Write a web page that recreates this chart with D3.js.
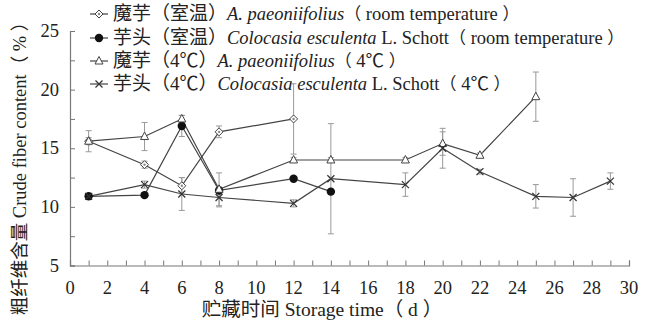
<!DOCTYPE html>
<html>
<head>
<meta charset="utf-8">
<script src="https://cdn.jsdelivr.net/npm/d3@7"></script>
<style>
  html, body { margin: 0; padding: 0; background: #fff; }
  svg { display: block; }
  text { font-family: "Liberation Serif", "Noto Sans CJK SC", serif; fill: #222; }
</style>
</head>
<body>
<svg id="chart" width="648" height="322"></svg>
<script>
// Storage days and crude fiber content (%) with standard deviations
const daysAmRoom = [1, 4, 6, 8, 12];
const valAmRoom  = [15.6, 13.6, 11.8, 16.4, 17.5];
const errAmRoom  = [0.9, 0.3, 0.7, 0.5, 3.0];

const daysCeRoom = [1, 4, 6, 8, 12, 14];
const valCeRoom  = [10.9, 11.0, 16.9, 11.4, 12.4, 11.3];
const errCeRoom  = [0.2, 0.2, 0.9, 0.3, 0.2, 0.2];

const daysAmCold = [1, 4, 6, 8, 12, 14, 18, 20, 22, 25];
const valAmCold  = [15.6, 16.0, 17.5, 11.5, 14.0, 14.0, 14.0, 15.4, 14.4, 19.4];
const errAmCold  = [0.3, 1.2, 0.3, 1.4, 0.2, 0.2, 0.2, 1.0, 0.2, 2.1];

const daysCeCold = [1, 4, 6, 8, 12, 14, 18, 20, 22, 25, 27, 29];
const valCeCold  = [10.9, 11.9, 11.1, 10.8, 10.3, 12.4, 11.9, 15.0, 13.0, 10.9, 10.8, 12.2];
const errCeCold  = [0.2, 0.3, 1.4, 0.8, 0.3, 4.7, 1.0, 1.7, 0.2, 1.0, 1.6, 0.7];

const xTicks = [0, 2, 4, 6, 8, 10, 12, 14, 16, 18, 20, 22, 24, 26, 28, 30];
const yTicks = [5, 10, 15, 20, 25];

const svg = d3.select("#chart");
const x = d3.scaleLinear().domain([0, 30]).range([70, 629]);
const y = d3.scaleLinear().domain([5, 25]).range([265.5, 31]);

const series = [
  { days: daysAmRoom, vals: valAmRoom, errs: errAmRoom, marker: "diamond",
    cn: "魔芋（室温）", sp: "A. paeoniifolius", auth: "", cond: " room temperature " },
  { days: daysCeRoom, vals: valCeRoom, errs: errCeRoom, marker: "circle",
    cn: "芋头（室温）", sp: "Colocasia esculenta", auth: " L. Schott", cond: " room temperature " },
  { days: daysAmCold, vals: valAmCold, errs: errAmCold, marker: "triangle",
    cn: "魔芋（4℃）", sp: "A. paeoniifolius", auth: "", cond: " 4℃ " },
  { days: daysCeCold, vals: valCeCold, errs: errCeCold, marker: "cross",
    cn: "芋头（4℃）", sp: "Colocasia esculenta", auth: " L. Schott", cond: " 4℃ " }
];

// Axes: ticks point inward
const axisColor = "#777";
const xAxis = d3.axisBottom(x).tickValues(d3.range(0, 31, 1)).tickSize(-5).tickFormat("");
const gx = svg.append("g").attr("transform", `translate(0,${y(5)})`).call(xAxis);
const yAxis = d3.axisLeft(y).tickValues(d3.range(5, 25.1, 2.5)).tickSize(-5).tickFormat("");
const gy = svg.append("g").attr("transform", `translate(${x(0)},0)`).call(yAxis);
[gx, gy].forEach(g => {
  g.select(".domain").attr("stroke", axisColor).attr("stroke-width", 1.2);
  g.selectAll(".tick line").attr("stroke", axisColor).attr("stroke-width", 1);
});

// Tick labels
svg.append("g").selectAll("text").data(xTicks).join("text")
  .attr("x", d => x(d)).attr("y", 294)
  .attr("text-anchor", "middle").attr("font-size", 18.5)
  .text(d => d);
svg.append("g").selectAll("text").data(yTicks).join("text")
  .attr("x", 59).attr("y", d => y(d) + 6)
  .attr("text-anchor", "end").attr("font-size", 18.5)
  .text(d => d);

// Axis titles
svg.append("text")
  .attr("x", 322).attr("y", 316)
  .attr("text-anchor", "middle").attr("font-size", 19.5)
  .style("white-space", "pre")
  .text("贮藏时间 Storage time（ d ）");
svg.append("text")
  .attr("transform", "translate(26,164) rotate(-90)")
  .attr("text-anchor", "middle").attr("font-size", 18.5)
  .style("white-space", "pre")
  .text("粗纤维含量 Crude fiber content（ % ）");

// Marker shapes
function drawMarker(g, type, cx, cy) {
  const s = "#444";
  if (type === "diamond") {
    g.append("path").attr("d", `M${cx},${cy - 4}L${cx + 4},${cy}L${cx},${cy + 4}L${cx - 4},${cy}Z`)
      .attr("fill", "#fff").attr("stroke", s).attr("stroke-width", 1);
    g.append("circle").attr("cx", cx).attr("cy", cy).attr("r", 1.2).attr("fill", "#888");
  } else if (type === "circle") {
    g.append("circle").attr("cx", cx).attr("cy", cy).attr("r", 4.2).attr("fill", "#111");
  } else if (type === "triangle") {
    g.append("path").attr("d", `M${cx},${cy - 4.5}L${cx + 4},${cy + 3}L${cx - 4},${cy + 3}Z`)
      .attr("fill", "#fff").attr("stroke", s).attr("stroke-width", 1);
  } else {
    g.append("path").attr("d", `M${cx - 3.5},${cy - 3.5}L${cx + 3.5},${cy + 3.5}M${cx - 3.5},${cy + 3.5}L${cx + 3.5},${cy - 3.5}`)
      .attr("stroke", "#333").attr("stroke-width", 1.2);
  }
}

// Lines
const line = d3.line().x(d => x(d[0])).y(d => y(d[1]));
series.forEach(s => {
  svg.append("path")
    .datum(s.days.map((d, i) => [d, s.vals[i]]))
    .attr("d", line).attr("fill", "none")
    .attr("stroke", "#444").attr("stroke-width", 1.2);
});

// Error bars
const eb = svg.append("g").attr("stroke", "#999").attr("stroke-width", 1);
series.forEach(s => {
  s.days.forEach((d, i) => {
    const cx = x(d), y1 = y(s.vals[i] + s.errs[i]), y2 = y(s.vals[i] - s.errs[i]);
    eb.append("line").attr("x1", cx).attr("x2", cx).attr("y1", y1).attr("y2", y2);
    eb.append("line").attr("x1", cx - 3).attr("x2", cx + 3).attr("y1", y1).attr("y2", y1);
    eb.append("line").attr("x1", cx - 3).attr("x2", cx + 3).attr("y1", y2).attr("y2", y2);
  });
});

// Markers
const mk = svg.append("g");
series.forEach(s => {
  s.days.forEach((d, i) => drawMarker(mk, s.marker, x(d), y(s.vals[i])));
});

// Legend
const legendY = [14, 38, 61, 84];
series.forEach((s, i) => {
  const g = svg.append("g");
  const ly = legendY[i];
  g.append("line").attr("x1", 90).attr("x2", 108).attr("y1", ly).attr("y2", ly)
    .attr("stroke", "#444").attr("stroke-width", 1.2);
  drawMarker(g, s.marker, 99, ly);
  const t = g.append("text").attr("x", 113).attr("y", ly + 6).attr("font-size", 18.5)
    .style("white-space", "pre");
  t.append("tspan").attr("font-size", 19).text(s.cn);
  t.append("tspan").attr("font-style", "italic").text(s.sp);
  if (s.auth) t.append("tspan").text(s.auth);
  t.append("tspan").attr("font-size", 17).text("（");
  t.append("tspan").text(s.cond);
  t.append("tspan").attr("font-size", 17).text("）");
});
</script>
</body>
</html>
